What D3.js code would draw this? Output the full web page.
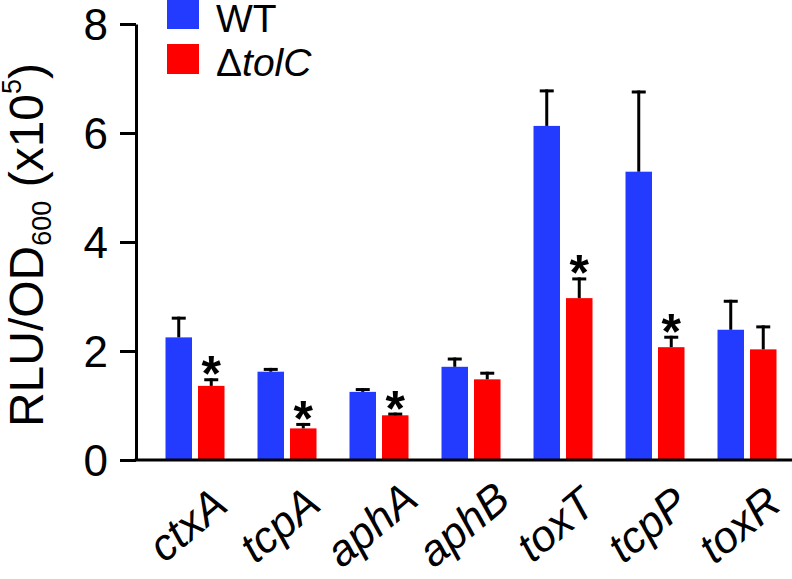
<!DOCTYPE html>
<html><head><meta charset="utf-8">
<script src="https://cdn.jsdelivr.net/npm/d3@7"></script>
<style>body{margin:0;background:#fff}svg{display:block;font-family:"Liberation Sans",Arial,sans-serif}</style>
</head><body><svg id="c" width="792" height="579"></svg>
<script>
const categories = ["ctxA","tcpA","aphA","aphB","toxT","tcpP","toxR"];
const wtValues = [2.25,1.62,1.25,1.71,6.13,5.29,2.39];
const wtErrors = [0.38,0.07,0.07,0.17,0.67,1.49,0.55];
const koValues = [1.36,0.58,0.82,1.48,2.97,2.07,2.03];
const koErrors = [0.14,0.10,0.05,0.14,0.38,0.21,0.44];
const significant = [true,true,true,false,true,true,false];
const yTicks = [0,2,4,6,8];
const seriesNames = ["WT","ΔtolC"];
const colors = ["#233bff","#ff0000"];

const svg = d3.select("#c");
const y = d3.scaleLinear([0,8],[460,24]);
const x = d3.scaleBand(categories,[149,793]);
const barW = 26.5, gap = 6;

// y axis
const ya = svg.append("g").attr("transform","translate(136,0)")
  .call(d3.axisLeft(y).tickValues(yTicks).tickSize(16).tickSizeOuter(0).tickPadding(12));
ya.select(".domain").attr("stroke","#000").attr("stroke-width",3);
ya.selectAll(".tick line").attr("stroke","#000").attr("stroke-width",3);
ya.selectAll(".tick text").attr("font-size",44).attr("font-family","Liberation Sans, Arial, sans-serif").attr("fill","#000").attr("dy","0.36em");

const series = [
  {vals: wtValues, errs: wtErrors, off: -gap/2 - barW, color: colors[0]},
  {vals: koValues, errs: koErrors, off: gap/2, color: colors[1]}
];
series.forEach((s,si) => {
  const g = svg.append("g");
  categories.forEach((c,i) => {
    const cx = x(c) + x.bandwidth()/2;
    const bx = cx + s.off;
    g.append("rect").attr("x",bx).attr("width",barW)
      .attr("y",y(s.vals[i])).attr("height",y(0)-y(s.vals[i])).attr("fill",s.color);
    const top = y(s.vals[i]+s.errs[i]);
    const mx = bx + barW/2;
    g.append("line").attr("x1",mx).attr("x2",mx).attr("y1",y(s.vals[i])).attr("y2",top)
      .attr("stroke","#000").attr("stroke-width",3);
    g.append("line").attr("x1",mx-7).attr("x2",mx+7).attr("y1",top+1.5).attr("y2",top+1.5)
      .attr("stroke","#000").attr("stroke-width",3);
    if (si===1 && significant[i]) {
      svg.append("text").attr("x",mx).attr("y",top - 15 + 28).attr("text-anchor","middle")
        .attr("font-size",50).attr("font-weight","bold").text("*");
    }
  });
});

// x axis line
svg.append("line").attr("x1",134.5).attr("x2",792).attr("y1",y(0)).attr("y2",y(0))
  .attr("stroke","#000").attr("stroke-width",3);

// x labels, centred on their slanted position
categories.forEach(c => {
  const cx = x(c) + x.bandwidth()/2;
  svg.append("text").attr("transform",`translate(${cx-8},524) rotate(-40)`)
    .attr("text-anchor","middle").attr("dy","0.36em")
    .attr("font-size",44).attr("font-style","italic").text(c);
});

// y label
const yl = svg.append("text").attr("transform","translate(43,245) rotate(-90)")
  .attr("text-anchor","middle").attr("font-size",48);
yl.append("tspan").text("RLU/OD");
yl.append("tspan").attr("font-size",27).attr("dy",8).text("600");
yl.append("tspan").attr("dy",-8).text(" (x10");
yl.append("tspan").attr("font-size",27).attr("dy",-22).text("5");
yl.append("tspan").attr("dy",22).text(")");

// legend
const lg = svg.append("g");
lg.append("rect").attr("x",167).attr("y",0).attr("width",32).attr("height",29).attr("fill",colors[0]);
lg.append("rect").attr("x",167).attr("y",44).attr("width",32).attr("height",30).attr("fill",colors[1]);
lg.append("text").attr("x",216).attr("y",32).attr("font-size",39).text(seriesNames[0]);
const t2 = lg.append("text").attr("x",216).attr("y",76).attr("font-size",39);
t2.append("tspan").text("Δ");
t2.append("tspan").attr("font-style","italic").text("tolC");
</script></body></html>
